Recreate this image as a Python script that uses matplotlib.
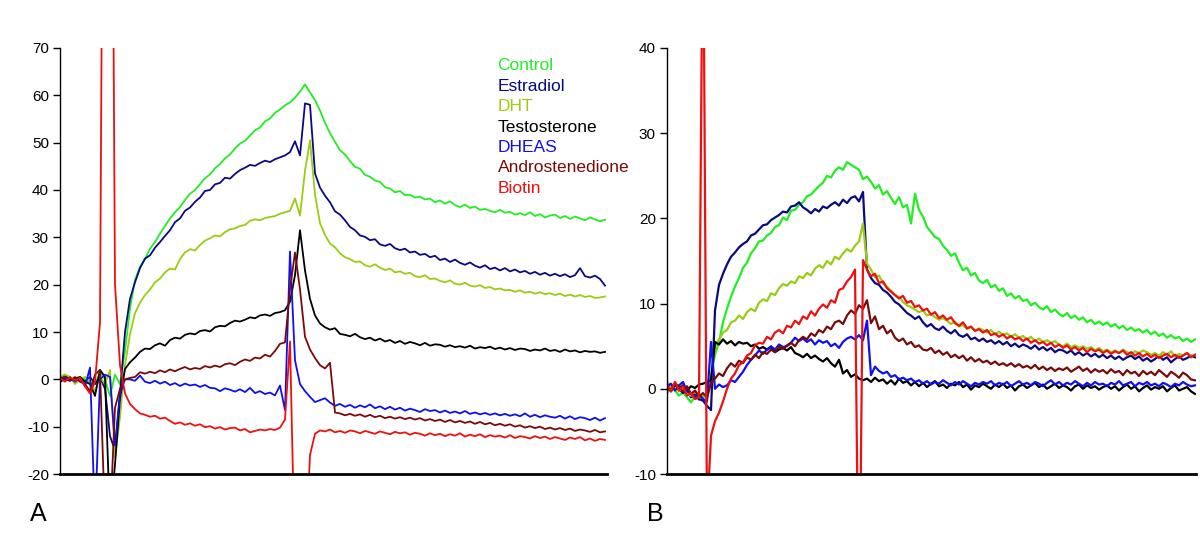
import numpy as np
import matplotlib
matplotlib.use("Agg")
import matplotlib.pyplot as plt

plt.rcParams["font.family"] = ["Liberation Sans", "DejaVu Sans"]
plt.rcParams["axes.unicode_minus"] = False

SERIES = ["Control", "Estradiol", "DHT", "Testosterone", "DHEAS", "Androstenedione", "Biotin"]
COLORS = ["#22ee22", "#0a0a80", "#9acc14", "#000000", "#1010ee", "#7a0a0a", "#ee1010"]

STEP_A = 5   # sampling interval of panel A traces
STEP_B = 4   # sampling interval of panel B traces

# ---- panel A (response, 10 samples per row) ----
a_control = [
    0.5, 1.0, 0.3, -0.5, 0.5, 0.0, -0.8, -1.0, 1.5, 0.0,
    -3.5, 1.0, -1.0, 6.0, 15.0, 21.0, 23.8, 25.4, 27.6, 29.0,
    30.8, 32.4, 34.0, 35.3, 36.4, 37.9, 39.2, 40.0, 41.2, 42.5,
    43.3, 44.6, 45.5, 46.7, 47.5, 48.8, 49.8, 50.4, 51.5, 52.6,
    53.2, 54.5, 55.1, 56.3, 57.0, 57.9, 58.5, 59.5, 60.8, 62.3,
    60.6, 59.0, 56.8, 54.2, 52.0, 50.2, 48.4, 47.5, 46.1, 44.9,
    44.5, 43.2, 42.8, 42.0, 41.7, 40.6, 40.3, 39.5, 39.8, 38.9,
    39.0, 38.4, 38.6, 38.0, 38.2, 37.4, 37.8, 37.1, 37.6, 36.8,
    36.4, 36.9, 36.2, 36.5, 35.8, 36.0, 35.6, 35.3, 35.8, 35.2,
    35.4, 34.8, 35.1, 34.7, 35.3, 34.5, 34.9, 34.2, 34.6, 34.8,
    34.1, 34.5, 33.9, 34.4, 34.0, 33.6, 34.2, 33.8, 33.4, 33.7,
]
a_estradiol = [
    0.3, 0.8, 0.0, -0.3, 0.2, -0.5, 0.5, -1.0, 0.5, -2.0,
    -12.0, -15.0, -3.0, 10.0, 17.0, 20.5, 23.5, 25.5, 26.2, 27.8,
    29.0, 30.3, 31.5, 33.2, 34.0, 35.6, 36.3, 37.5, 38.4, 39.8,
    40.0, 41.2, 41.5, 42.6, 42.4, 43.4, 44.2, 44.7, 45.3, 45.1,
    45.7, 46.2, 45.9, 46.5, 46.9, 47.3, 48.0, 50.3, 47.3, 58.3,
    58.0, 43.5, 40.5, 38.8, 37.4, 35.5, 34.8, 33.6, 32.2, 31.5,
    30.4, 30.1, 29.4, 29.6, 28.5, 28.2, 28.6, 27.7, 27.3, 27.6,
    26.8, 27.0, 26.3, 26.5, 25.8, 26.1, 25.2, 25.5, 24.8, 25.3,
    24.6, 24.2, 24.7, 24.0, 23.6, 24.1, 23.3, 23.6, 23.0, 23.5,
    22.8, 23.2, 22.6, 22.9, 22.3, 22.7, 22.1, 22.5, 21.9, 22.3,
    21.8, 22.2, 21.6, 22.0, 23.5, 21.8, 21.5, 21.9, 21.2, 19.8,
]
a_dht = [
    0.5, 1.0, 0.5, -1.0, 0.0, 0.5, -0.5, -2.5, 0.5, -1.0,
    2.0, -16.5, -8.0, 3.0, 9.5, 14.0, 16.2, 17.8, 19.0, 20.5,
    21.3, 22.6, 23.4, 23.2, 25.4, 26.8, 27.5, 27.2, 28.4, 29.3,
    29.8, 30.4, 30.2, 31.1, 31.7, 31.9, 32.4, 32.6, 33.5, 33.8,
    33.6, 34.1, 34.3, 34.5, 35.0, 35.3, 35.6, 38.2, 34.6, 44.0,
    50.5, 39.0, 33.0, 30.5, 28.7, 27.9, 26.6, 25.8, 25.4, 24.8,
    24.9, 24.1, 23.8, 24.3, 23.6, 23.1, 23.4, 22.6, 22.8, 22.3,
    22.5, 21.8, 21.6, 22.0, 21.2, 21.3, 20.8, 20.5, 20.9, 20.2,
    20.0, 20.4, 19.8, 19.6, 19.9, 19.3, 19.5, 19.0, 19.2, 18.8,
    18.9, 18.5, 18.8, 18.3, 18.5, 18.1, 18.4, 18.0, 18.2, 17.8,
    18.1, 17.6, 17.9, 17.5, 17.8, 17.4, 17.6, 17.2, 17.3, 17.5,
]
a_testosterone = [
    -0.5, 0.0, -0.3, 0.2, 0.5, -0.5, -1.0, -3.5, 2.0, 0.5,
    -30.0, -18.0, -4.0, 2.2, 3.6, 4.6, 5.8, 6.5, 6.4, 7.2,
    7.6, 7.1, 8.3, 8.8, 8.6, 9.4, 9.7, 9.5, 10.2, 10.4,
    10.1, 11.0, 11.3, 11.2, 11.9, 12.4, 12.2, 12.6, 13.1, 12.9,
    13.5, 13.7, 13.4, 14.0, 14.2, 14.6, 16.4, 22.0, 31.5, 23.0,
    17.0, 13.5, 11.8, 11.0, 10.5, 10.8, 9.6, 9.4, 9.1, 9.6,
    8.9, 8.5, 8.8, 8.2, 8.6, 8.0, 8.3, 7.7, 8.1, 7.5,
    7.9, 7.6, 7.2, 7.7, 7.1, 7.4, 7.3, 6.9, 7.2, 6.8,
    7.0, 6.7, 7.1, 6.5, 6.8, 6.6, 6.9, 6.4, 6.7, 6.3,
    6.6, 6.2, 6.5, 6.4, 6.0, 6.3, 6.1, 6.5, 6.0, 6.2,
    5.8, 6.3, 5.9, 6.1, 5.7, 6.0, 5.8, 5.9, 5.6, 5.8,
]
a_dheas = [
    0.5, 0.0, 0.3, -0.5, 0.3, -1.5, 2.5, -30.0, 0.0, 1.0,
    0.5, -14.0, -3.0, 0.0, 0.0, -0.3, 0.8, -0.5, -0.8, -0.3,
    -0.9, -0.5, -1.2, -0.8, -1.4, -0.9, -1.3, -1.1, -1.6, -1.2,
    -1.8, -1.9, -2.5, -1.9, -2.2, -2.6, -2.1, -2.7, -1.8, -2.9,
    -2.5, -3.1, -2.8, -3.4, -1.3, -6.5, 27.0, 4.0, -1.0, -2.5,
    -3.7, -4.8, -4.4, -4.0, -4.9, -5.6, -5.2, -5.8, -5.4, -6.0,
    -5.5, -5.9, -5.3, -6.1, -5.7, -6.3, -5.8, -6.4, -6.0, -6.6,
    -6.2, -6.5, -6.9, -6.3, -6.7, -6.5, -7.0, -6.6, -7.1, -6.8,
    -7.2, -6.7, -7.3, -7.0, -7.4, -7.1, -7.5, -7.2, -7.6, -7.3,
    -7.7, -7.4, -7.8, -7.2, -7.9, -7.5, -8.0, -7.6, -7.9, -8.1,
    -7.7, -8.3, -7.8, -8.4, -8.0, -8.2, -8.6, -8.1, -8.7, -8.2,
]
a_androstenedione = [
    0.0, 0.5, -0.3, 0.5, -0.5, -1.0, -2.5, 1.0, 2.0, -30.0,
    -30.0, -6.0, -2.0, 0.0, 0.3, 0.5, 1.5, 1.2, 1.6, 1.3,
    1.9, 1.5, 2.1, 1.7, 2.2, 2.6, 2.1, 2.4, 2.2, 2.8,
    2.5, 2.9, 2.6, 3.2, 3.4, 3.0, 3.7, 4.2, 3.9, 4.6,
    4.4, 5.2, 4.8, 6.0, 7.5, 7.8, 19.0, 26.8, 19.0, 9.0,
    6.3, 4.5, 3.0, 2.3, 3.5, -7.0, -7.2, -7.6, -7.3, -7.7,
    -7.4, -7.9, -7.5, -8.0, -7.7, -8.2, -7.9, -8.3, -8.0, -8.4,
    -8.1, -8.5, -8.2, -8.7, -8.4, -8.8, -8.5, -9.0, -8.6, -9.1,
    -8.8, -9.2, -8.9, -9.4, -9.0, -9.5, -9.2, -9.7, -9.4, -9.8,
    -9.5, -10.0, -9.7, -10.2, -9.9, -10.3, -10.0, -10.5, -10.2, -10.6,
    -10.3, -10.7, -10.4, -10.9, -10.6, -10.8, -11.1, -10.7, -11.2, -11.0,
]
a_biotin = [
    0.3, -0.5, 0.5, -0.3, 0.4, -1.5, -3.0, -0.5, 12.0, 200.0,
    200.0, 20.0, 3.0, -3.0, -5.2, -6.3, -7.2, -7.5, -7.9, -7.7,
    -8.3, -8.1, -8.8, -9.4, -9.1, -9.6, -9.3, -9.8, -9.5, -10.1,
    -9.9, -10.4, -10.1, -10.6, -10.3, -10.2, -10.8, -10.5, -11.2, -10.9,
    -10.6, -10.8, -10.5, -10.7, -10.2, -8.5, 8.0, -40.0, -40.0, -40.0,
    -16.0, -11.5, -10.8, -11.0, -10.6, -11.2, -10.9, -11.3, -10.8, -11.0,
    -11.4, -10.9, -11.2, -11.5, -11.0, -11.3, -11.6, -11.1, -11.4, -11.2,
    -11.7, -11.3, -11.5, -11.9, -11.4, -11.8, -11.5, -12.0, -11.6, -11.9,
    -11.4, -12.1, -11.7, -12.0, -11.6, -12.2, -11.8, -12.1, -11.9, -12.3,
    -11.8, -12.4, -12.0, -12.2, -12.5, -12.0, -12.4, -12.1, -12.6, -12.2,
    -12.5, -12.8, -12.3, -12.6, -12.2, -12.9, -12.5, -13.0, -12.6, -12.8,
]

# ---- panel B (response, 10 samples per row) ----
b_control = [
    -0.5, 0.3, -0.2, -0.8, -0.4, -1.0, -1.6, -0.9, -1.3, -1.0,
    -0.5, 1.5, 4.0, 5.5, 7.8, 9.4, 10.8, 12.0, 13.0, 14.2,
    14.8, 15.9, 16.5, 17.3, 17.4, 18.0, 18.3, 19.0, 19.2, 20.1,
    19.8, 20.9, 21.0, 21.6, 21.9, 22.6, 22.8, 23.3, 23.8, 24.2,
    25.0, 24.8, 25.6, 26.0, 25.7, 26.6, 26.3, 26.0, 25.7, 24.6,
    24.9, 24.3, 23.5, 23.9, 22.8, 23.2, 22.4, 21.7, 22.5, 21.3,
    21.6, 19.4, 22.9, 21.0, 20.2, 19.0, 18.4, 17.8, 17.6, 16.8,
    16.3, 15.6, 15.9, 14.8, 13.9, 14.2, 13.3, 13.6, 12.7, 12.4,
    12.8, 11.9, 12.2, 11.5, 11.8, 10.9, 11.2, 10.6, 10.9, 10.3,
    10.5, 9.8, 10.1, 9.6, 9.3, 9.7, 9.0, 9.3, 8.8, 8.5,
    8.9, 8.3, 8.6, 8.1, 8.4, 7.8, 8.1, 7.6, 7.9, 7.5,
    7.8, 7.3, 7.6, 7.1, 7.4, 6.9, 7.2, 6.8, 7.0, 6.6,
    6.9, 6.4, 6.7, 6.2, 6.5, 6.0, 6.3, 5.9, 6.1, 5.6,
    5.9, 5.5, 5.8,
]
b_estradiol = [
    0.3, -0.2, 0.6, 0.0, -0.5, -0.2, -1.0, -0.6, -1.2, -1.4,
    -2.0, -2.5, 9.2, 12.2, 13.5, 14.6, 15.5, 16.0, 16.6, 17.0,
    17.3, 18.0, 18.2, 18.7, 19.2, 19.3, 19.8, 20.1, 20.4, 20.8,
    20.7, 21.4, 21.5, 21.9, 21.3, 21.0, 20.6, 21.1, 20.8, 21.4,
    21.2, 21.6, 21.9, 21.5, 22.2, 21.8, 22.4, 22.6, 22.0, 23.1,
    14.0, 13.0, 12.4, 12.2, 11.6, 11.3, 10.8, 10.2, 9.9, 9.4,
    8.9, 8.6, 8.2, 8.5, 7.8, 7.3, 7.6, 7.1, 6.9, 7.3,
    6.8, 6.5, 6.9, 6.3, 6.1, 6.4, 5.8, 6.0, 5.6, 5.9,
    5.5, 5.7, 5.3, 5.6, 5.2, 5.5, 5.0, 5.3, 4.9, 5.2,
    5.0, 4.7, 5.1, 4.6, 4.9, 4.5, 4.8, 4.3, 4.6, 4.5,
    4.2, 4.5, 4.0, 4.3, 3.9, 4.2, 3.8, 4.1, 3.7, 4.0,
    3.6, 3.9, 3.5, 3.8, 3.4, 3.7, 3.9, 3.5, 3.8, 3.3,
    3.6, 3.2, 3.5, 3.9, 3.4, 3.7, 3.1, 3.5, 3.8, 3.4,
    3.6, 3.9, 3.7,
]
b_dht = [
    0.8, 0.2, 0.5, -0.3, 0.4, -0.6, -0.8, -0.3, -1.0, -0.8,
    -1.2, 1.0, 5.0, 5.8, 6.6, 6.9, 7.8, 8.0, 8.6, 8.2,
    9.0, 9.4, 9.1, 10.1, 10.5, 10.3, 11.2, 11.0, 11.8, 12.3,
    12.1, 12.6, 12.4, 13.2, 13.0, 13.6, 13.3, 14.1, 14.5, 14.2,
    15.0, 14.6, 15.5, 15.2, 15.9, 16.4, 16.1, 16.8, 17.3, 19.4,
    14.7, 14.0, 13.1, 13.3, 12.4, 12.0, 11.5, 11.0, 10.8, 10.2,
    9.8, 9.6, 9.3, 9.0, 9.2, 8.6, 8.8, 8.4, 8.1, 8.3,
    8.0, 7.6, 7.9, 7.3, 7.5, 7.0, 7.3, 6.8, 7.1, 6.9,
    6.6, 6.9, 6.4, 6.7, 6.3, 6.5, 6.1, 6.4, 6.0, 6.2,
    5.8, 6.1, 5.6, 5.9, 5.5, 5.7, 5.4, 5.6, 5.2, 5.0,
    5.3, 4.9, 5.1, 4.8, 5.0, 4.7, 4.9, 4.5, 4.8, 4.4,
    4.6, 4.3, 4.5, 4.2, 4.6, 4.3, 4.1, 4.4, 4.2, 4.5,
    4.3, 4.0, 4.2, 3.9, 4.3, 4.0, 4.4, 3.8, 4.1, 3.9,
    4.2, 3.8, 4.0,
]
b_testosterone = [
    0.2, -0.3, 0.5, 0.0, 0.4, -0.2, 0.3, 0.1, 0.5, 0.6,
    0.8, 1.0, 5.5, 5.2, 5.8, 5.3, 5.6, 5.1, 5.5, 5.3,
    5.4, 5.0, 5.2, 4.7, 4.9, 4.6, 4.9, 4.3, 4.6, 4.8,
    4.5, 4.9, 4.2, 4.0, 3.7, 4.1, 3.6, 3.9, 3.5, 3.2,
    3.6, 3.0, 2.6, 3.4, 1.8, 2.2, 1.4, 1.7, 1.2, 1.0,
    1.2, 0.8, 1.3, 0.9, 1.1, 0.6, 1.0, 0.5, 1.2, 0.7,
    0.9, 0.4, 0.8, 0.3, 0.7, 0.2, 0.6, 0.9, 0.3, 0.5,
    0.1, 0.6, 0.4, 0.8, 0.2, 0.5, -0.1, 0.4, 0.2, 0.6,
    0.3, 0.0, 0.5, 0.2, 0.6, 0.1, 0.4, -0.2, 0.3, 0.5,
    0.1, 0.4, 0.7, 0.2, 0.5, 0.0, 0.3, 0.6, 0.1, 0.4,
    0.2, -0.2, 0.3, 0.5, 0.0, 0.4, 0.1, 0.3, -0.1, 0.2,
    0.4, 0.0, 0.3, -0.2, 0.2, 0.5, 0.0, 0.3, -0.3, 0.1,
    0.4, -0.1, 0.2, 0.0, 0.3, -0.3, 0.1, 0.4, -0.2, 0.0,
    0.2, -0.3, -0.6,
]
b_dheas = [
    0.3, 0.6, -0.2, 0.4, 0.8, -0.3, -0.5, -1.0, -0.6, -1.2,
    -1.5, 5.5, 0.0, 0.5, 0.2, 0.4, 1.0, 0.8, 1.4, 2.0,
    2.8, 3.4, 3.9, 4.5, 4.1, 4.6, 5.0, 4.6, 5.2, 4.9,
    5.0, 5.4, 6.0, 5.6, 5.9, 5.5, 5.8, 5.2, 5.7, 5.4,
    5.6, 5.0, 5.3, 4.8, 5.5, 5.9, 6.1, 5.8, 6.3, 5.7,
    8.0, 1.6, 2.6, 2.1, 1.8, 2.0, 1.4, 1.6, 1.1, 1.3,
    1.0, 1.2, 0.8, 1.0, 0.6, 0.9, 0.5, 0.8, 0.6, 1.0,
    0.7, 0.4, 0.8, 0.5, 0.9, 0.6, 0.3, 0.7, 0.5, 0.8,
    0.6, 0.9, 0.4, 0.7, 0.5, 0.8, 0.3, 0.6, 0.9, 0.5,
    0.7, 0.4, 0.8, 0.6, 0.3, 0.7, 1.0, 0.5, 0.8, 0.4,
    0.7, 0.5, 0.9, 0.6, 0.3, 0.7, 0.4, 0.8, 0.5, 0.6,
    0.3, 0.7, 0.5, 0.9, 0.4, 0.6, 0.8, 0.3, 0.7, 0.5,
    0.8, 0.4, 0.6, 0.3, 0.7, 0.5, 0.2, 0.6, 0.4, 0.8,
    0.5, 0.3, 0.4,
]
b_androstenedione = [
    0.4, -0.2, 0.7, 0.2, -0.3, 0.3, -0.6, -0.2, -0.9, -0.5,
    -1.0, 0.7, 1.2, 1.8, 1.5, 2.4, 3.0, 2.6, 3.3, 3.0,
    3.7, 3.4, 4.0, 3.6, 4.3, 4.1, 4.6, 4.3, 5.0, 4.7,
    5.1, 5.4, 5.0, 5.7, 6.1, 5.8, 6.5, 6.2, 6.9, 6.6,
    7.3, 7.0, 7.8, 8.0, 7.6, 8.6, 9.2, 8.8, 9.8, 9.4,
    10.4, 7.7, 8.5, 7.0, 7.4, 6.5, 6.9, 6.0, 5.6, 5.9,
    5.2, 5.5, 4.9, 5.1, 4.6, 4.5, 4.8, 4.2, 4.5, 4.0,
    4.3, 3.7, 4.0, 3.6, 3.9, 3.3, 3.7, 3.2, 3.5, 3.1,
    3.3, 2.9, 3.2, 2.8, 3.0, 2.7, 3.0, 2.6, 2.9, 2.5,
    2.7, 2.4, 2.8, 2.3, 2.6, 2.2, 2.5, 2.1, 2.4, 2.2,
    2.5, 2.0, 2.3, 2.6, 2.1, 2.4, 1.9, 2.3, 2.0, 2.2,
    1.8, 2.3, 1.9, 2.1, 1.6, 2.2, 1.8, 2.0, 1.5, 2.1,
    1.7, 2.0, 1.6, 2.2, 1.8, 1.4, 2.0, 1.7, 1.3, 1.9,
    1.6, 1.1, 1.0,
]
b_biotin = [
    0.5, -0.3, 0.8, -0.2, 0.3, -0.8, -0.5, -1.2, -1.0, 60.0,
    -15.0, -5.5, -3.8, -2.8, -1.5, 0.0, 1.2, 1.8, 2.8, 3.1,
    3.9, 4.2, 5.1, 5.4, 5.3, 6.1, 5.8, 6.6, 6.9, 6.5,
    7.4, 7.2, 8.0, 7.6, 8.5, 8.2, 9.1, 8.6, 9.4, 9.9,
    9.5, 10.4, 10.1, 11.6, 11.8, 12.6, 13.1, 14.0, -30.0, 15.1,
    14.0, 13.2, 13.5, 12.4, 12.6, 11.8, 11.4, 11.0, 10.6, 10.9,
    10.1, 10.3, 9.6, 9.8, 9.2, 9.4, 8.7, 9.0, 8.3, 8.6,
    8.1, 8.4, 7.7, 7.4, 7.8, 7.1, 7.3, 6.8, 7.0, 6.6,
    6.9, 6.3, 6.5, 6.1, 6.4, 5.9, 6.2, 5.8, 6.0, 5.6,
    5.9, 5.4, 5.7, 5.3, 5.5, 5.1, 5.4, 4.9, 5.2, 4.8,
    5.1, 4.6, 4.9, 4.5, 4.8, 4.3, 4.7, 4.4, 4.6, 4.2,
    4.5, 4.1, 4.4, 4.2, 4.5, 4.0, 4.3, 3.9, 4.2, 3.8,
    4.1, 3.7, 4.0, 3.6, 3.9, 4.1, 3.7, 4.0, 3.6, 3.9,
    4.2, 3.7, 4.0,
]

panel_a = [a_control, a_estradiol, a_dht, a_testosterone, a_dheas, a_androstenedione, a_biotin]
panel_b = [b_control, b_estradiol, b_dht, b_testosterone, b_dheas, b_androstenedione, b_biotin]


def draw_panel(ax, series, step, ylim, yticks, lw):
    for vals, col in zip(series, COLORS):
        x = np.arange(len(vals)) * step
        ax.plot(x, vals, color=col, lw=lw)
    ax.set_ylim(*ylim)
    ax.set_yticks(yticks)
    ax.set_xticks([])
    for side in ("top", "right"):
        ax.spines[side].set_visible(False)
    ax.spines["left"].set_linewidth(1.0)
    ax.spines["bottom"].set_linewidth(2.0)
    ax.tick_params(axis="y", direction="out", length=5, width=1, labelsize=11, pad=3)


fig = plt.figure(figsize=(12, 5.54), dpi=100)
ax_a = fig.add_axes([60 / 1200, 80 / 554, 547 / 1200, 426 / 554])
ax_b = fig.add_axes([667 / 1200, 80 / 554, 528.5 / 1200, 426 / 554])

draw_panel(ax_a, panel_a, STEP_A, (-20, 70), range(-20, 71, 10), 1.3)
ax_a.set_xlim(0, 547)
draw_panel(ax_b, panel_b, STEP_B, (-10, 40), range(-10, 41, 10), 1.6)
ax_b.set_xlim(0, 528.5)

# legend as coloured labels
for k, (name, col) in enumerate(zip(SERIES, COLORS)):
    ax_a.text(0.80, 0.958 - k * 0.0479, name, color=col, fontsize=12.5,
              transform=ax_a.transAxes, va="center", ha="left", clip_on=False)

fig.text(38 / 1200, 1 - 514 / 554, "A", fontsize=18, ha="center", va="center")
fig.text(655 / 1200, 1 - 514 / 554, "B", fontsize=18, ha="center", va="center")

fig.savefig("out.png", dpi=100)
